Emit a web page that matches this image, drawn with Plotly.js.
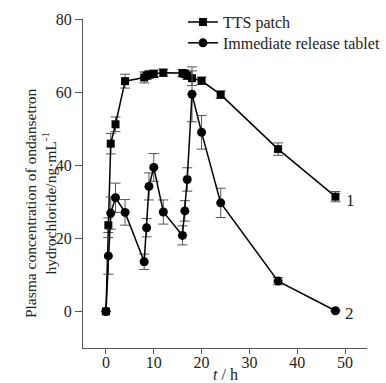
<!DOCTYPE html>
<html>
<head>
<meta charset="utf-8">
<script src="https://cdn.plot.ly/plotly-3.0.1.min.js"></script>
<style>html,body{margin:0;padding:0;background:#fff;}#chart{width:386px;height:383px;}</style>
</head>
<body>
<div id="chart"></div>
<script>
// Sampling times (h)
const times = [0, 0.5, 1, 2, 4, 8, 8.5, 9, 10, 12, 16, 16.5, 17, 18, 20, 24, 36, 48];
// TTS patch concentration (ng/mL) and SD
const ttsValues = [0, 23.6, 45.9, 51.2, 63.0, 64.0, 64.5, 64.8, 65.0, 65.3, 65.2, 65.0, 64.5, 63.8, 63.1, 59.3, 44.4, 31.4];
const ttsErrors = [0, 2, 2.8, 2, 1.9, 1.5, 1, 1, 1, 1, 1, 1, 1, 2, 1, 1, 1.7, 1.4];
// Immediate release tablet concentration (ng/mL) and SD
const tabValues = [0, 15.2, 26.9, 31.1, 27.1, 13.6, 22.9, 34.2, 39.4, 27.2, 20.8, 27.5, 36.1, 59.4, 49.0, 29.7, 8.3, 0.2];
const tabErrors = [0, 5, 4.4, 4, 3.5, 2.1, 2.5, 3.7, 3.8, 3.3, 2.6, 2.8, 3.2, 7.5, 4.6, 4, 1, 0];
// Labels
const seriesNames = ["TTS patch", "Immediate release tablet"];
const curveLabels = ["1", "2"];
const xTitle = "<i>t</i> / h";
const yTitleLines = ["Plasma concentration of ondansetron", "hydrochloride/ng·mL<sup>-1</sup>"];

const FONT = '"Liberation Serif", "Times New Roman", Times, serif';

const errStyle = {type: 'data', visible: true, thickness: 1, width: 5, color: '#555'};

const traces = [
  {
    x: times, y: ttsValues, name: seriesNames[0], type: 'scatter', mode: 'lines+markers',
    legend: 'legend',
    line: {color: '#000', width: 1.5},
    marker: {symbol: 'square', size: 8, color: '#000'},
    error_y: Object.assign({array: ttsErrors}, errStyle)
  },
  {
    x: times, y: tabValues, name: seriesNames[1], type: 'scatter', mode: 'lines+markers',
    legend: 'legend2',
    line: {color: '#000', width: 1.5},
    marker: {symbol: 'circle', size: 9, color: '#000'},
    error_y: Object.assign({array: tabErrors}, errStyle)
  }
];

const legendBase = {
  xanchor: 'left', yanchor: 'top',
  bgcolor: 'rgba(0,0,0,0)', borderwidth: 0,
  font: {family: FONT, size: 16, color: '#222'}
};

const layout = {
  width: 386, height: 383,
  margin: {l: 83, r: 19, t: 19, b: 35, autoexpand: false},
  paper_bgcolor: '#fff', plot_bgcolor: '#fff',
  font: {family: FONT, size: 16, color: '#222'},
  showlegend: true,
  legend: Object.assign({x: 0.352, y: 1.042}, legendBase),
  legend2: Object.assign({x: 0.352, y: 0.979}, legendBase),
  xaxis: {
    range: [-4.8, 54.6], dtick: 10, tick0: 0,
    showline: true, linecolor: '#555', linewidth: 1,
    ticks: 'outside', ticklen: 5, tickcolor: '#555',
    ticklabelstandoff: -5,
    showgrid: false, zeroline: false, automargin: false,
    tickfont: {family: FONT, size: 16, color: '#222'}
  },
  yaxis: {
    range: [-10, 80], dtick: 20, tick0: 0,
    showline: true, linecolor: '#555', linewidth: 1,
    ticks: 'outside', ticklen: 7, tickcolor: '#555',
    showgrid: false, zeroline: false, automargin: false,
    tickfont: {family: FONT, size: 16, color: '#222'}
  },
  annotations: [
    {
      xref: 'paper', yref: 'paper', x: -0.152, y: 0.44, xanchor: 'center', yanchor: 'middle',
      textangle: -90, showarrow: false,
      text: yTitleLines.join('<br>'),
      font: {family: FONT, size: 15.5, color: '#222'}
    },
    {
      xref: 'paper', yref: 'paper', x: 0.5, y: -0.082, xanchor: 'center', yanchor: 'middle',
      showarrow: false, text: xTitle,
      font: {family: FONT, size: 16, color: '#222'}
    },
    {
      xref: 'x', yref: 'y', x: times[times.length - 1], y: ttsValues[ttsValues.length - 1],
      xshift: 15, yshift: -4, xanchor: 'center', showarrow: false,
      text: curveLabels[0], font: {family: FONT, size: 17, color: '#222'}
    },
    {
      xref: 'x', yref: 'y', x: times[times.length - 1], y: tabValues[tabValues.length - 1],
      xshift: 14, yshift: -3, xanchor: 'center', showarrow: false,
      text: curveLabels[1], font: {family: FONT, size: 17, color: '#222'}
    }
  ]
};

Plotly.newPlot('chart', traces, layout, {displayModeBar: false, staticPlot: true});
</script>
</body>
</html>
